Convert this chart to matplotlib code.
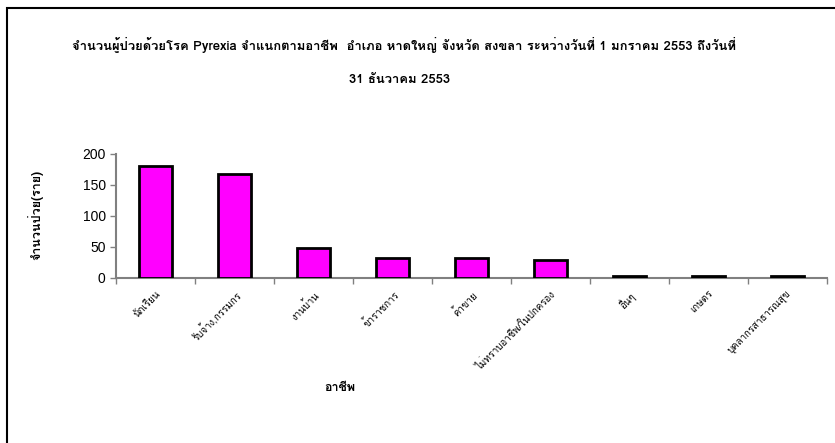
import matplotlib
matplotlib.use("Agg")
import matplotlib.pyplot as plt
from matplotlib import font_manager
from matplotlib.ft2font import FT2Font
from matplotlib.patches import Rectangle

# data
occupations = ["นักเรียน", "รับจ้าง,กรรมกร", "งานบ้าน", "ข้าราชการ", "ค้าขาย",
               "ไม่ทราบอาชีพ/ในปกครอง", "อื่นๆ", "เกษตร", "บุคลากรสาธารณสุข"]
patients = [180, 168, 48, 33, 33, 29, 3, 3, 3]
y_ticks = [0, 50, 100, 150, 200]

title_line1 = "จำนวนผู้ป่วยด้วยโรค Pyrexia จำแนกตามอาชีพ  อำเภอ หาดใหญ่ จังหวัด สงขลา ระหว่างวันที่ 1 มกราคม 2553 ถึงวันที่"
title_line2 = "31 ธันวาคม 2553"
x_title = "อาชีพ"
y_title = "จำนวนป่วย(ราย)"


def find_thai_font():
    # pick the first installed font that has Thai glyphs
    for f in font_manager.fontManager.ttflist:
        try:
            if 0x0E01 in FT2Font(f.fname).get_charmap():
                return f.name
        except Exception:
            pass
    return "DejaVu Sans"


thai = find_thai_font()
plt.rcParams['font.family'] = [thai, 'DejaVu Sans']

fig = plt.figure(figsize=(8.35, 4.43), dpi=100)
fig.patches.append(Rectangle((0.008, -0.01), 1.1, 0.993, transform=fig.transFigure,
                             fill=False, edgecolor='black', linewidth=1.5))

ax = fig.add_axes([0.139, 0.3725, 0.851, 0.28])
x = list(range(len(occupations)))
ax.bar(x, patients, width=0.42, color='#FF00FF', edgecolor='black', linewidth=2, zorder=3)

ax.set_xlim(-0.5, len(occupations) - 0.5)
ax.set_ylim(0, 200)
ax.set_yticks(y_ticks)
ax.set_yticklabels([str(v) for v in y_ticks], family='Liberation Sans', fontsize=10)

# ticks between categories, labels at the centres
ax.set_xticks([i - 0.5 for i in range(len(occupations) + 1)])
ax.set_xticklabels([])
ax.set_xticks(x, minor=True)
ax.set_xticklabels(occupations, minor=True, rotation=45, ha='right', va='top',
                   rotation_mode='anchor', fontsize=7)
ax.tick_params(axis='x', which='minor', length=0, pad=8)
ax.tick_params(axis='both', which='major', color='#808080', length=4, width=1)

for side in ['top', 'right']:
    ax.spines[side].set_visible(False)
for side in ['left', 'bottom']:
    ax.spines[side].set_color('#808080')
    ax.spines[side].set_linewidth(1.5)

fig.text(0.484, 0.898, title_line1, ha='center', va='center', fontsize=9.4, fontweight='bold')
fig.text(0.478, 0.819, title_line2, ha='center', va='center', fontsize=9.4, fontweight='bold')
fig.text(0.407, 0.124, x_title, ha='center', va='center', fontsize=9, fontweight='bold')
fig.text(0.042, 0.515, y_title, ha='center', va='center', rotation=90, fontsize=9, fontweight='bold')

fig.savefig('out.png', dpi=100)
